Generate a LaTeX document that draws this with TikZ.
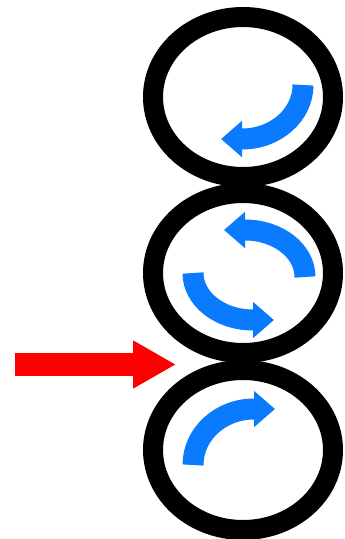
\documentclass[tikz,border=0pt]{standalone}
\usepackage{xcolor}
\usepackage{tikz}
\usetikzlibrary{arrows.meta,shapes.geometric}
\definecolor{spinblue}{HTML}{0A7AFF}
\definecolor{feedred}{HTML}{FF0000}

\tikzset{
  roller/.style={ellipse, draw=black, line width=20pt, inner sep=0pt,
    minimum width=180pt, minimum height=160pt},
  spin/.style={spinblue, line width=21pt,
    -{Triangle[length=21pt, width=35pt]}},
  feed/.style={feedred, line width=23pt,
    -{Triangle[length=43pt, width=45pt]}}
}

\begin{document}
\begin{tikzpicture}[x=1pt, y=-1pt]
    \useasboundingbox (0,0) rectangle (345,539);
    % the three rollers
    \node[roller] (upper) at (243,97) {};
    \node[roller] (middle) at (243,273) {};
    \node[roller] (lower) at (243,450) {};
    % turning directions
    \draw[spin] (303,85) arc[start angle=0, end angle=90, x radius=61, y radius=54]
      -- ++(-21,0);
    \draw[spin] (305,277) arc[start angle=0, end angle=-90, x radius=60, y radius=47]
      -- ++(-21,0);
    \draw[spin] (193,273) arc[start angle=180, end angle=90, x radius=60, y radius=47]
      -- ++(21,0);
    \draw[spin] (193,465) arc[start angle=180, end angle=270, x radius=61, y radius=56]
      -- ++(21,0);
    % feed into the lower nip
    \coordinate (feedin) at (15,364.5);
    \coordinate (nip) at (176,364.5);
    \draw[feed] (feedin) -- (nip);
  \end{tikzpicture}
\end{document}
